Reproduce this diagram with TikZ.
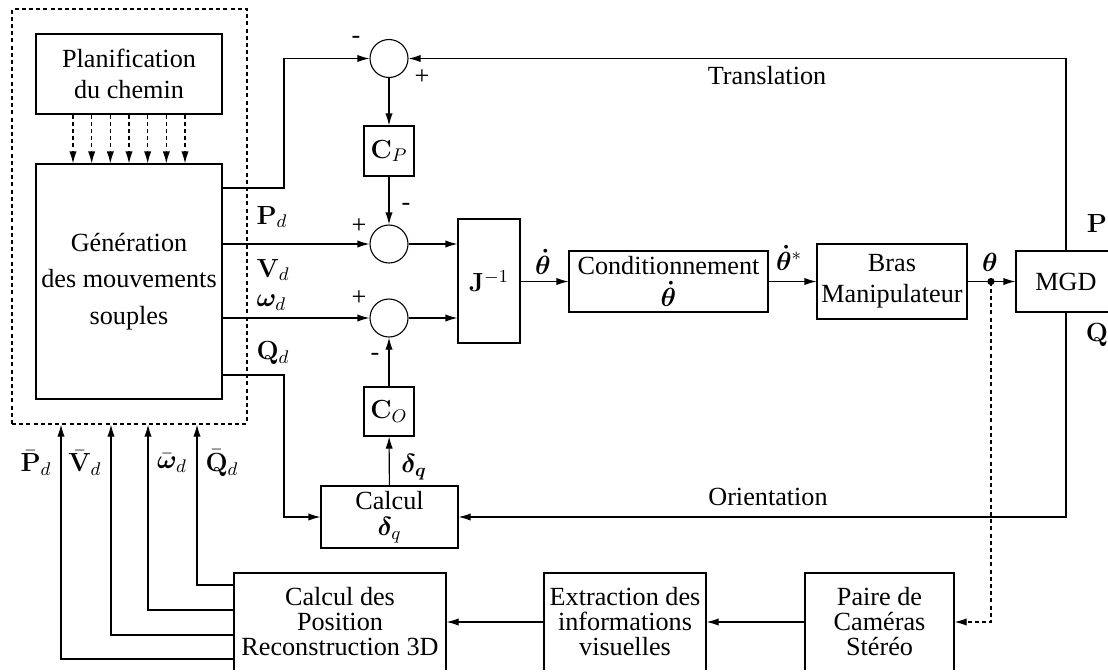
\RequirePackage{fix-cm}
\documentclass[tikz,border=0pt]{standalone}
\usepackage[no-math]{fontspec}
\setmainfont{Liberation Serif}
\usepackage{amsmath,bm}
\usetikzlibrary{arrows.meta,calc}
\begin{document}
\begin{tikzpicture}[x=0.5pt,y=-0.5pt,
  line width=0.55pt,
  every node/.style={font=\fontsize{13.1}{15.7}\selectfont},
  bx/.style={draw, inner sep=0pt, align=center},
  tight/.style={font=\fontsize{13.1}{12.5}\selectfont},
  sumc/.style={draw, circle, inner sep=0pt, minimum size=19pt},
  arr/.style={-{Latex[length=6pt,width=3.6pt]}},
  dsh/.style={dash pattern=on 2pt off 1.6pt},
  lbl/.style={inner sep=0pt}]
\useasboundingbox (0,0) rectangle (1108,671);
\clip (0,0) rectangle (1108,669.5);

% frame and left blocks
\node[draw, dsh, inner sep=0pt, minimum width=117.5pt, minimum height=207.5pt] (frame) at (129.5,216.5) {};
\node[bx, minimum width=93pt, minimum height=40pt] (plan) at (129,74) {Planification\\du chemin};
\node[bx, minimum width=93pt, minimum height=117.5pt, font=\fontsize{13.1}{18.3}\selectfont] (gen) at (129,281.5) {Génération\\des mouvements\\souples};

% summing junctions and controllers
\node[sumc] (s1) at (389,58.5) {};
\node[sumc] (s2) at (389,244) {};
\node[sumc] (s3) at (389,318) {};
\node[bx, minimum width=25pt, minimum height=25pt] (cp) at (389,151) {$\mathbf{C}_P$};
\node[bx, minimum width=25pt, minimum height=24.5pt] (co) at (389,411.5) {$\mathbf{C}_O$};
\node[bx, minimum width=31pt, minimum height=62pt] (jinv) at (489,281) {$\mathbf{J}^{-1}$};
\node[bx, minimum width=99.5pt, minimum height=30.5pt] (cond) at (668.5,281.5) {Conditionnement\\$\bm{\dot\theta}$};
\node[bx, minimum width=75pt, minimum height=37.5pt] (bras) at (892,281.5) {Bras\\Manipulateur};
\node[bx, minimum width=50pt, minimum height=30.5pt] (mgd) at (1066,281.5) {MGD};
\node[bx, minimum width=68.5pt, minimum height=31pt, font=\fontsize{13.1}{13}\selectfont] (cdq) at (389.5,517) {Calcul\\$\bm{\delta}_q$};

% bottom blocks
\node[bx, tight, minimum width=106pt, minimum height=49pt] (cdp) at (340,622) {Calcul des\\Position\\Reconstruction 3D};
\node[bx, tight, minimum width=81pt, minimum height=49pt] (ext) at (625,622) {Extraction des\\informations\\visuelles};
\node[bx, tight, minimum width=74.5pt, minimum height=49pt] (paire) at (879.5,622) {Paire de\\Caméras\\Stéréo};

% planning arrows
\foreach \k in {-3,...,3}
  \draw[arr,dsh] ($(plan.south)+(\k*18.67,0)$) -- ($(gen.north)+(\k*18.67,0)$);

% forward paths
\draw[arr] (gen.east |- 0,188) -- (284,188) |- (s1.west);
\draw[arr] (gen.east |- s2) -- (s2.west);
\draw[arr] (gen.east |- s3) -- (s3.west);
\draw[arr] (gen.east |- 0,375) -- (284,375) |- (cdq.west);
\draw[arr] (s1) -- (cp);
\draw[arr] (cp) -- (s2);
\draw[arr] (s2) -- (jinv.west |- s2);
\draw[arr] (s3) -- (jinv.west |- s3);
\draw[arr] (co) -- (s3);
\draw[arr] (cdq) -- (co);
\draw[arr] (jinv.east |- cond) -- (cond.west);
\draw[arr] (cond) -- (bras);
\draw[arr] (bras) -- (mgd);
\coordinate (th) at (991,281.5);
\fill (th) circle[radius=1.8pt];

% feedback paths
\draw[arr] (mgd.north) |- (s1.east);
\draw[arr] (mgd.south) |- (cdq.east);
\draw[arr,dsh] (th) |- (paire.east);
\draw[arr] (paire) -- (ext);
\draw[arr] (ext) -- (cdp);
\draw[arr] (cdp.west |- 0,585) -| (frame.south -| 197,0);
\draw[arr] (cdp.west |- 0,610) -| (frame.south -| 148,0);
\draw[arr] (cdp.west |- 0,635) -| (frame.south -| 111,0);
\draw[arr] (cdp.west |- 0,659) -| (frame.south -| 61,0);

% labels
\node[lbl,anchor=west] (lPd) at (256,217) {$\mathbf{P}_d$};
\node[lbl,anchor=west] (lVd) at (256,270) {$\mathbf{V}_d$};
\node[lbl,anchor=west] (lwd) at (256,303) {$\bm{\omega}_d$};
\node[lbl,anchor=west] (lQd) at (256,353) {$\mathbf{Q}_d$};
\node[lbl] (lPb) at (36,463) {$\bar{\mathbf{P}}_d$};
\node[lbl] (lVb) at (85,463) {$\bar{\mathbf{V}}_d$};
\node[lbl] (lwb) at (172,463) {$\bar{\bm{\omega}}_d$};
\node[lbl] (lQb) at (222,463) {$\bar{\mathbf{Q}}_d$};
\node[lbl] (m1) at (356,40) {-};
\node[lbl] (p1) at (422,77) {+};
\node[lbl] (p2) at (359,226) {+};
\node[lbl] (m2) at (406,207) {-};
\node[lbl] (p3) at (359,298) {+};
\node[lbl] (m3) at (375,357) {-};
\node[lbl] (lthd) at (543,262) {$\bm{\dot\theta}$};
\node[lbl] (lthds) at (789,258) {$\bm{\dot\theta}^*$};
\node[lbl] (lth) at (990,262) {$\bm{\theta}$};
\node[lbl] (ldq) at (414,467) {$\bm{\delta_q}$};
\node[lbl] (ltr) at (767,76) {Translation};
\node[lbl] (lor) at (768,497) {Orientation};
\node[lbl] (lP) at (1097,224) {$\mathbf{P}$};
\node[lbl] (lQ) at (1097,335) {$\mathbf{Q}$};
\end{tikzpicture}
\end{document}
